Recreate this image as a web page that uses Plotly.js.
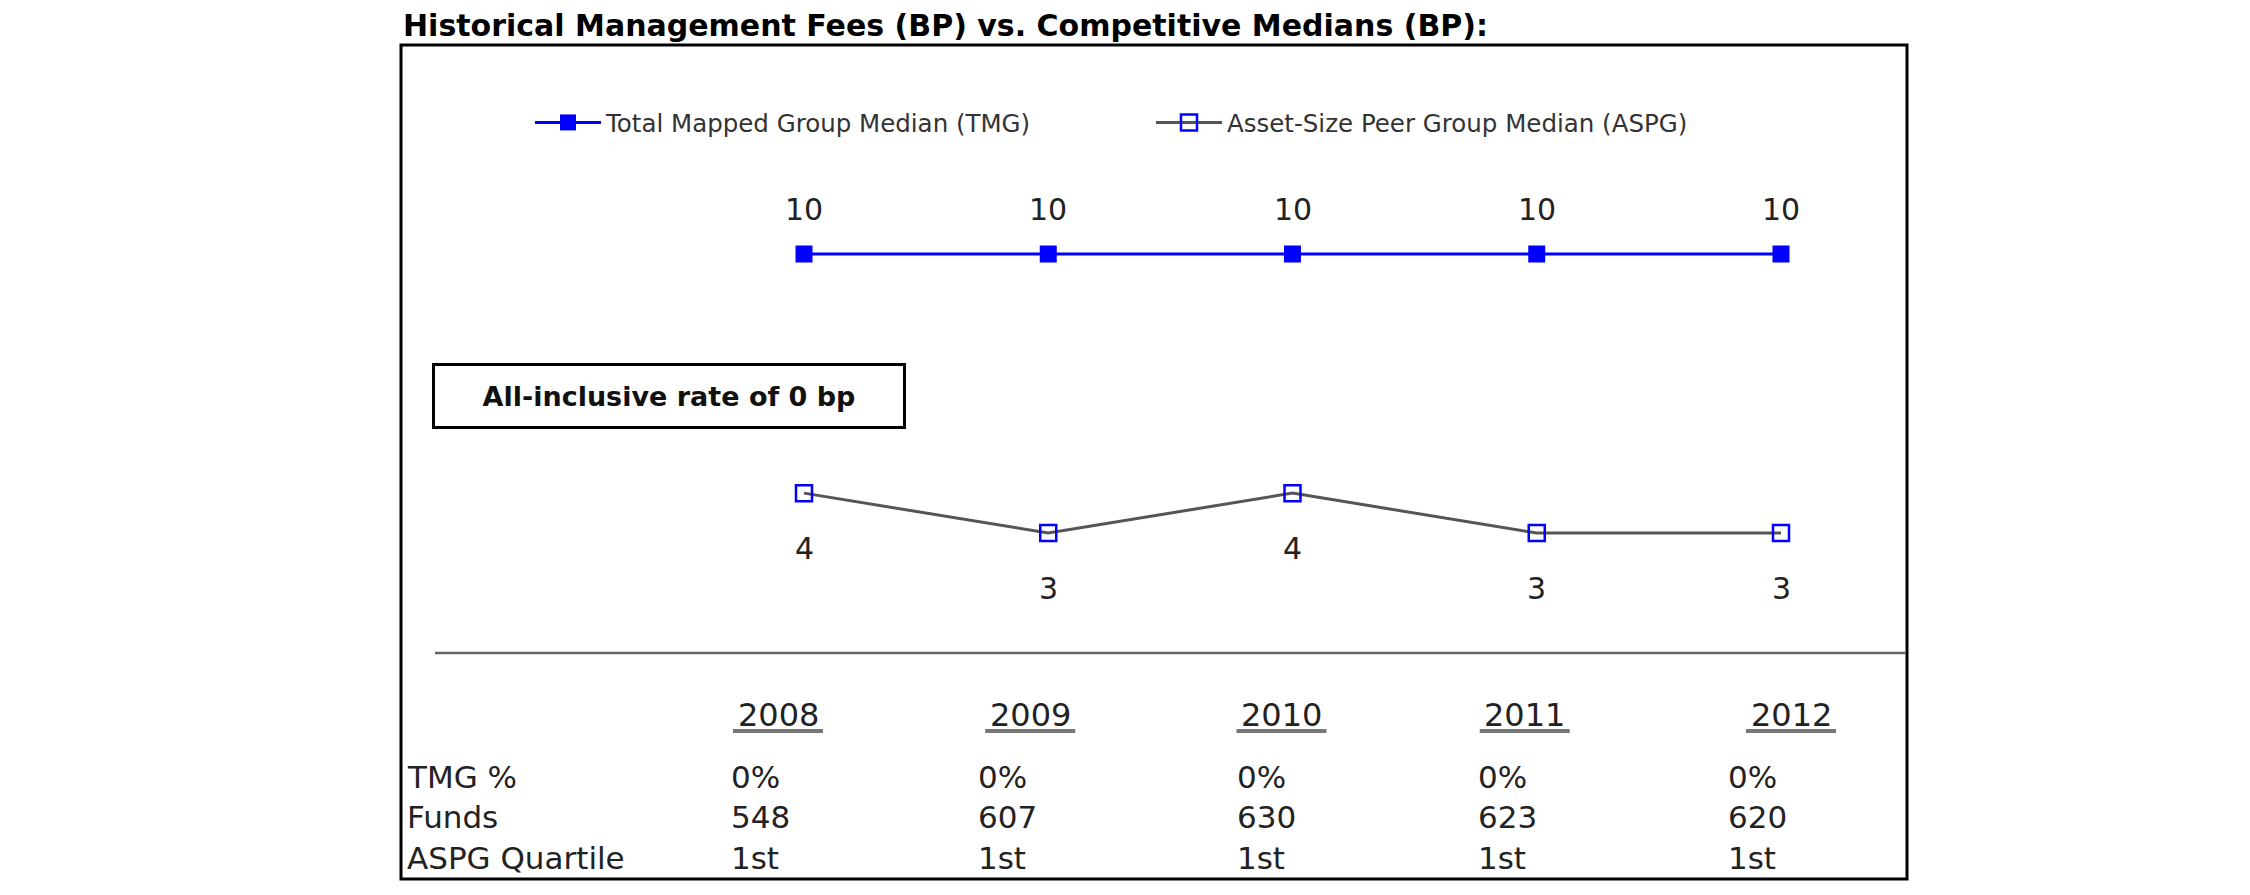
<!DOCTYPE html>
<html>
<head>
<meta charset="utf-8">
<script src="https://cdn.plot.ly/plotly-3.0.1.min.js"></script>
<style>html,body{margin:0;padding:0;background:#fff;}#chart{width:2250px;height:895px;}</style>
</head>
<body>
<div id="chart"></div>
<script>
// ---- data ----
const years = ['2008', '2009', '2010', '2011', '2012'];
const tmgMedian = [10, 10, 10, 10, 10];
const aspgMedian = [4, 3, 4, 3, 3];
const tmgPct = ['0%', '0%', '0%', '0%', '0%'];
const funds = [548, 607, 630, 623, 620];
const aspgQuartile = ['1st', '1st', '1st', '1st', '1st'];
const rowLabels = ['TMG %', 'Funds', 'ASPG Quartile'];
const seriesNames = ['Total Mapped Group Median (TMG)', 'Asset-Size Peer Group Median (ASPG)'];
const chartTitle = 'Historical Management Fees (BP) vs. Competitive Medians (BP):';
const rateNote = 'All-inclusive rate of 0 bp';

// ---- layout helpers ----
const W = 2250, H = 895;
const px = v => v / W;
const py = v => 1 - v / H;
const FONT = 'DejaVu Sans, Verdana, sans-serif';
const idx = years.map((_, i) => i);
// per-column pixel offsets of the table text relative to the data columns
const yearShift = [-26, -18, -11, -12, 10];
const valueShift = [-75, -72, -58, -61, -55];

const traces = [
  {
    x: idx, y: tmgMedian, name: seriesNames[0], type: 'scatter', mode: 'lines+markers',
    line: {color: '#0000FF', width: 3},
    marker: {symbol: 'square', size: 17, color: '#0000FF'},
    hoverinfo: 'skip'
  },
  {
    x: idx, y: aspgMedian, name: seriesNames[1], type: 'scatter', mode: 'lines+markers',
    line: {color: '#555555', width: 3},
    marker: {symbol: 'square-open', size: 16, color: '#0000FF', line: {width: 2.5, color: '#0000FF'}},
    hoverinfo: 'skip'
  }
];

const annotations = [];
// title
annotations.push({xref: 'paper', yref: 'paper', x: px(401), y: py(25), xanchor: 'left', yanchor: 'middle',
  text: '<b>' + chartTitle + '</b>', showarrow: false, font: {family: FONT, size: 30, color: '#000'}});
// value labels
tmgMedian.forEach((v, i) => annotations.push({xref: 'x', yref: 'y', x: i, y: v, yshift: 45,
  text: String(v), showarrow: false, font: {family: FONT, size: 30, color: '#222'}}));
aspgMedian.forEach((v, i) => annotations.push({xref: 'x', yref: 'y', x: i, y: v, yshift: -55,
  text: String(v), showarrow: false, font: {family: FONT, size: 30, color: '#222'}}));
// note box
annotations.push({xref: 'paper', yref: 'paper', x: px(669), y: py(396), xanchor: 'center', yanchor: 'middle',
  text: '<b>' + rateNote + '</b>', showarrow: false, width: 466, height: 58,
  bordercolor: '#000', borderwidth: 3, borderpad: 1, bgcolor: '#fff',
  font: {family: FONT, size: 27, color: '#111'}});
// table: years
years.forEach((y, i) => annotations.push({xref: 'x', yref: 'paper', x: i, xshift: yearShift[i], y: py(715),
  text: y, showarrow: false, xanchor: 'center', yanchor: 'middle', font: {family: FONT, size: 32, color: '#222'}}));
// table rows
const rows = [tmgPct, funds, aspgQuartile];
const rowY = [777, 817, 858];
rows.forEach((row, r) => {
  annotations.push({xref: 'paper', yref: 'paper', x: px(405), y: py(rowY[r]), xanchor: 'left', yanchor: 'middle',
    text: rowLabels[r], showarrow: false, font: {family: FONT, size: 31, color: '#222'}});
  row.forEach((v, i) => annotations.push({xref: 'x', yref: 'paper', x: i, xshift: valueShift[i], y: py(rowY[r]),
    xanchor: 'left', yanchor: 'middle', text: String(v), showarrow: false,
    font: {family: FONT, size: 31, color: '#222'}}));
});

const shapes = [
  // frame
  {type: 'rect', xref: 'paper', yref: 'paper', x0: px(401), x1: px(1907), y0: py(45), y1: py(879),
    line: {color: '#000', width: 3}},
  // separator
  {type: 'line', xref: 'paper', yref: 'paper', x0: px(435), x1: px(1906), y0: py(653), y1: py(653),
    line: {color: '#666', width: 2.5}}
];
years.forEach((y, i) => shapes.push({type: 'line', xref: 'x', yref: 'paper', xsizemode: 'pixel', xanchor: i,
  x0: yearShift[i] - 45, x1: yearShift[i] + 45, y0: py(731), y1: py(731), line: {color: '#777', width: 4}}));

const span = W / 244.25;
const x0 = -804 / 244.25;
const yUnit = (533 - 254) / 7;
const yTop = 10 + 254 / yUnit;
const yBot = yTop - H / yUnit;

const layout = {
  width: W, height: H,
  margin: {l: 0, r: 0, t: 0, b: 0, pad: 0},
  paper_bgcolor: '#fff', plot_bgcolor: '#fff',
  showlegend: true,
  legend: {orientation: 'h', x: px(530), y: py(100), xanchor: 'left', yanchor: 'top',
    font: {family: FONT, size: 24.5, color: '#333'}, itemwidth: 66, entrywidth: 540, entrywidthmode: 'pixels',
    bgcolor: 'rgba(0,0,0,0)', itemclick: false, itemdoubleclick: false},
  xaxis: {range: [x0, x0 + span], visible: false, fixedrange: true},
  yaxis: {range: [yBot, yTop], visible: false, fixedrange: true},
  annotations: annotations,
  shapes: shapes
};

Plotly.newPlot('chart', traces, layout, {displayModeBar: false, staticPlot: true});
</script>
</body>
</html>
